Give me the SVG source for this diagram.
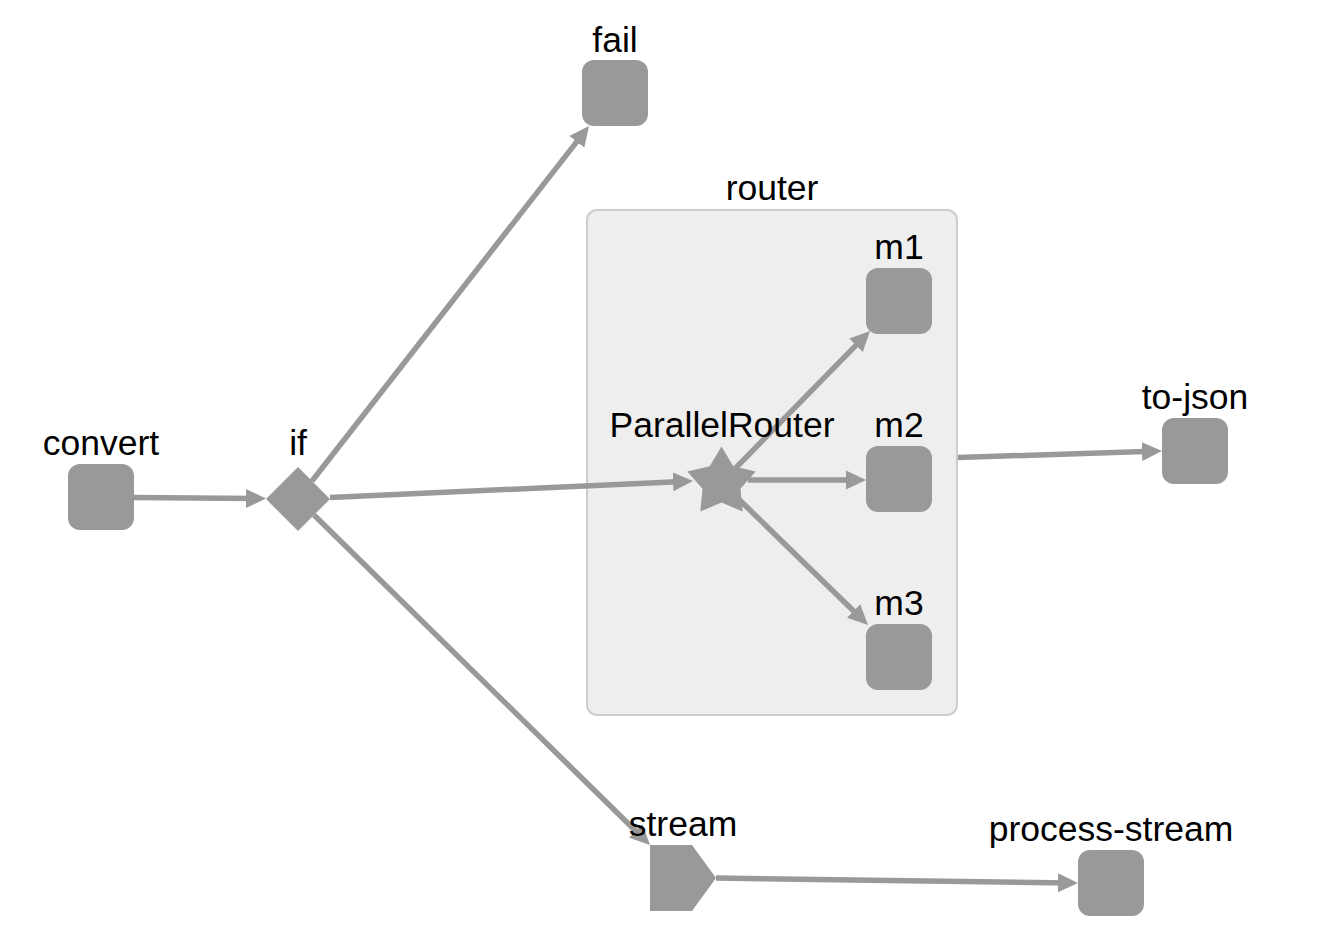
<svg xmlns="http://www.w3.org/2000/svg" width="1330" height="942" viewBox="0 0 1330 942">
<style>
.node{fill:#999999}
.lbl{font-family:"Liberation Sans",Arial,sans-serif;font-size:35.5px;fill:#000;text-anchor:middle}
.edge{stroke:#999999;stroke-width:5.5;fill:none;marker-end:url(#arrow)}
.group{fill:#eeeeee;stroke:#cccccc;stroke-width:2}
</style>
<defs>
<marker id="arrow" markerUnits="userSpaceOnUse" viewBox="0 0 20 20" refX="10" refY="10" markerWidth="20" markerHeight="20" orient="auto">
<path d="M0,0.5 L20,10 L0,19.5 z" fill="#999999"/>
</marker>
</defs>
<rect width="1330" height="942" fill="#ffffff"/>
<g id="router">
<rect class="group" x="587" y="210" width="370" height="505" rx="10"/>
<text class="lbl" x="772" y="200">router</text>
</g>
<g id="connectors">
<line class="edge" x1="134" y1="497.5" x2="256" y2="498.5"/>
<line class="edge" x1="312" y1="481" x2="582.9" y2="133.9"/>
<line class="edge" x1="330" y1="497.5" x2="683" y2="481.4"/>
<line class="edge" x1="314" y1="515" x2="642.9" y2="838"/>
<line class="edge" x1="735.5" y1="468.2" x2="863" y2="338.1"/>
<line class="edge" x1="748" y1="480" x2="856" y2="480"/>
<line class="edge" x1="736" y1="496.5" x2="860.8" y2="618"/>
<line class="edge" x1="958" y1="457.5" x2="1152" y2="451.3"/>
<line class="edge" x1="716" y1="878" x2="1068" y2="882.9"/>
</g>
<g id="convert">
<rect class="node" x="68" y="464" width="66" height="66" rx="12"/>
<text class="lbl" x="101" y="455">convert</text>
</g>
<g id="if">
<polygon class="node" points="298,467 330,499 298,531 266,499"/>
<text class="lbl" x="298" y="455">if</text>
</g>
<g id="fail">
<rect class="node" x="582" y="60" width="66" height="66" rx="12"/>
<text class="lbl" x="615" y="52">fail</text>
</g>
<g id="ParallelRouter">
<polygon class="node" points="721.5,446.5 733.3,466.3 755.7,471.4 740.5,488.7 742.7,511.6 721.5,502.5 700.3,511.6 702.5,488.7 687.3,471.4 709.7,466.3"/>
<text class="lbl" x="722" y="437">ParallelRouter</text>
</g>
<g id="m1">
<rect class="node" x="866" y="268" width="66" height="66" rx="12"/>
<text class="lbl" x="899" y="259">m1</text>
</g>
<g id="m2">
<rect class="node" x="866" y="446" width="66" height="66" rx="12"/>
<text class="lbl" x="899" y="437">m2</text>
</g>
<g id="m3">
<rect class="node" x="866" y="624" width="66" height="66" rx="12"/>
<text class="lbl" x="899" y="615">m3</text>
</g>
<g id="to-json">
<rect class="node" x="1162" y="418" width="66" height="66" rx="12"/>
<text class="lbl" x="1195" y="409">to-json</text>
</g>
<g id="stream">
<polygon class="node" points="650,845 692,845 716,878 692,911 650,911"/>
<text class="lbl" x="683" y="836">stream</text>
</g>
<g id="process-stream">
<rect class="node" x="1078" y="850" width="66" height="66" rx="12"/>
<text class="lbl" x="1111" y="841">process-stream</text>
</g>
</svg>
